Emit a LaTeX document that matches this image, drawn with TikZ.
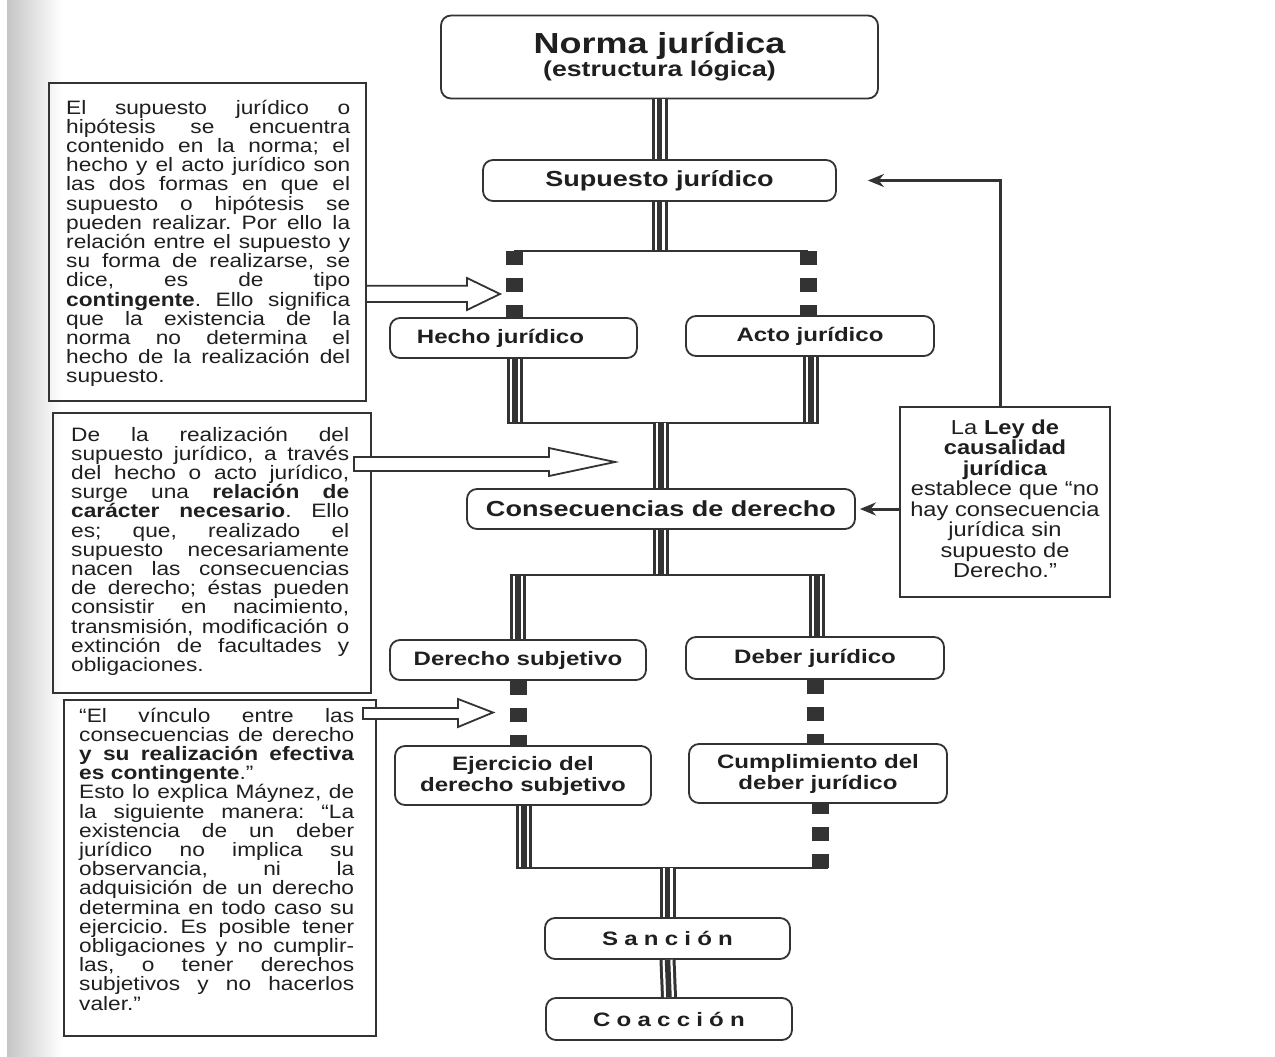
\documentclass[tikz,border=0pt]{standalone}
\usepackage{fontspec}
\setmainfont{Liberation Sans}[FakeStretch=1.24]
\newfontfamily\bodyf{Liberation Sans}[FakeStretch=1.17]
\usetikzlibrary{arrows.meta}
\definecolor{ink}{gray}{0.2}
\definecolor{txt}{gray}{0.12}
\newlength\jw
\newcommand\jl[1]{\noindent\hbox to \jw{\spaceskip=0.28em plus 1fil\relax #1}\par}
\newcommand\lastl[1]{\noindent #1\par}
\newcommand\lk{\kern6.2pt}
\newcommand\pset[1]{\lineskiplimit=-50pt\relax\parindent=0pt\relax\jw=#1\relax\frenchspacing}
\begin{document}
\begin{tikzpicture}[x=1pt, y=-1pt,
  rbox/.style={draw=ink, line width=1.8pt, rounded corners=10pt, fill=white, inner sep=0pt, align=center, text=txt, font=\bfseries\fontsize{19.4}{21}\selectfont},
  tbox/.style={draw=ink, line width=2.4pt, inner sep=0pt},
  ptext/.style={anchor=base west, inner sep=0pt, text=txt, font=\bodyf\fontsize{19.4}{19.2}\selectfont},
  hl/.style={draw=ink, line width=2.2pt},
  triple/.style={draw=ink, line width=5.5pt, preaction={draw=white, line width=10pt, preaction={draw=ink, line width=16pt}}},
  dsq/.style={draw=ink, line width=17pt, dash pattern=on 14pt off 13pt},
  arr/.style={draw=ink, line width=3pt, -{Stealth[length=16pt,width=13pt]}},
  hollow/.style={draw=ink, line width=1.8pt, fill=white, line join=miter}]
\useasboundingbox (0,0) rectangle (1275,1057);
\fill[white] (0,0) rectangle (1275,1057);
\shade[left color=gray!45, right color=white] (7,0) rectangle (62,1057);

% main boxes
\node[rbox, minimum width=437pt, minimum height=83pt] (norma) at (659.5,57)
  {\fontsize{29}{30}\selectfont Norma jurídica\\\fontsize{21.5}{29}\selectfont (estructura lógica)};
\node[rbox, minimum width=353pt, minimum height=41pt, font=\bfseries\fontsize{21.8}{24}\selectfont] (sup) at (659.5,180.5) {Supuesto jurídico};
\node[rbox, minimum width=247pt, minimum height=40pt] (hecho) at (513.5,338) {Hecho jurídico\kern26pt};
\node[rbox, minimum width=248pt, minimum height=40pt] (acto) at (810,336) {Acto jurídico};
\node[rbox, minimum width=388pt, minimum height=40pt, font=\bfseries\fontsize{21.8}{24}\selectfont] (cons) at (661,509) {Consecuencias de derecho};
\node[rbox, minimum width=256pt, minimum height=40pt] (ders) at (518,660) {Derecho subjetivo};
\node[rbox, minimum width=258pt, minimum height=42pt] (deb) at (815,658) {Deber jurídico};
\node[rbox, minimum width=256pt, minimum height=59pt] (ejer) at (523,775.5) {Ejercicio del\\derecho subjetivo};
\node[rbox, minimum width=258pt, minimum height=59pt] (cump) at (818,773.5) {Cumplimiento del\\deber jurídico};
\node[rbox, minimum width=245pt, minimum height=41pt] (sanc) at (667.5,938.5) {S\lk a\lk n\lk c\lk i\lk ó\lk n};
\node[rbox, minimum width=246pt, minimum height=42pt] (coac) at (669,1019) {C\lk o\lk a\lk c\lk c\lk i\lk ó\lk n};

% trunk and brackets
\coordinate (aL) at (514,251); \coordinate (aR) at (808,251);
\draw[triple] (norma.south) -- (sup.north);
\draw[triple] (sup.south) -- (sup.south |- aL);
\draw[hl] (aL) -- (aR);
\draw[dsq] (aL) -- (aL |- hecho.north);
\draw[dsq] (aR) -- (aR |- acto.north);
\coordinate (bL) at (515,423); \coordinate (bR) at (811,423);
\draw[triple] (bL |- hecho.south) -- (bL);
\draw[triple] (bR |- acto.south) -- (bR);
\draw[hl, shorten <=-8pt, shorten >=-8pt] (bL) -- (bR);
\draw[triple] (cons.north |- bL) -- (cons.north);
\coordinate (cL) at (518,575); \coordinate (cR) at (817,575);
\draw[triple] (cons.south) -- (cons.south |- cL);
\draw[triple] (cL) -- (cL |- ders.north);
\draw[triple] (cR) -- (cR |- deb.north);
\draw[hl, shorten <=-8pt, shorten >=-8pt] (cL) -- (cR);
\draw[dsq] (ders.south) -- (ders.south |- ejer.north);
\draw[dsq] (deb.south) -- (deb.south |- cump.north);
\coordinate (dL) at (524,868); \coordinate (dR) at (820,868);
\draw[triple] (dL |- ejer.south) -- (dL);
\draw[dsq] (dR) -- (dR |- cump.south);
\draw[hl, shorten <=-8pt, shorten >=-8pt] (dL) -- (dR);
\draw[triple] (sanc.north |- dL) -- (sanc.north);
\draw[triple] (sanc.south) -- (coac.north);

% left text boxes
\node[tbox, minimum width=317pt, minimum height=318pt] (t1) at (207.5,242) {};
\node[ptext, text width=284pt] (t1x) at (66,114) {\pset{284pt}%
\jl{El supuesto jurídico o}
\jl{hipótesis se encuentra}
\jl{contenido en la norma; el}
\jl{hecho y el acto jurídico son}
\jl{las dos formas en que el}
\jl{supuesto o hipótesis se}
\jl{pueden realizar. Por ello la}
\jl{relación entre el supuesto y}
\jl{su forma de realizarse, se}
\jl{dice, es de tipo}
\jl{\textbf{contingente}. Ello significa}
\jl{que la existencia de la}
\jl{norma no determina el}
\jl{hecho de la realización del}
\lastl{supuesto.}};

\node[tbox, minimum width=318pt, minimum height=280pt] (t2) at (212,553) {};
\node[ptext, text width=278pt] (t2x) at (71,441) {\pset{278pt}%
\jl{De la realización del}
\jl{supuesto jurídico, a través}
\jl{del hecho o acto jurídico,}
\jl{surge una \textbf{relación de}}
\jl{\textbf{carácter necesario}. Ello}
\jl{es; que, realizado el}
\jl{supuesto necesariamente}
\jl{nacen las consecuencias}
\jl{de derecho; éstas pueden}
\jl{consistir en nacimiento,}
\jl{transmisión, modificación o}
\jl{extinción de facultades y}
\lastl{obligaciones.}};

\node[tbox, minimum width=312pt, minimum height=336pt] (t3) at (220,868) {};
\node[ptext, text width=275pt] (t3x) at (79,722) {\pset{275pt}%
\jl{“El vínculo entre las}
\jl{consecuencias de derecho}
\jl{\textbf{y su realización efectiva}}
\lastl{\textbf{es contingente}.”}
\jl{Esto lo explica Máynez, de}
\jl{la siguiente manera: “La}
\jl{existencia de un deber}
\jl{jurídico no implica su}
\jl{observancia, ni la}
\jl{adquisición de un derecho}
\jl{determina en todo caso su}
\jl{ejercicio. Es posible tener}
\jl{obligaciones y no cumplir-}
\jl{las, o tener derechos}
\jl{subjetivos y no hacerlos}
\lastl{valer.”}};

% hollow arrows
\draw[hollow] (t1.east |- 0,285.7) -- (467,285.7) -- (467,278) -- (500,294) -- (467,310) -- (467,302) -- (t1.east |- 0,302);
\draw[hollow] (354,457) -- (549,457) -- (549,448) -- (615,462) -- (549,476) -- (549,471) -- (354,471) -- cycle;
\draw[hollow] (363,708) -- (458,708) -- (458,699) -- (493,712.5) -- (458,727) -- (458,719) -- (363,719) -- cycle;

% right box
\node[tbox, minimum width=210pt, minimum height=190pt] (ley) at (1005,502) {};
\node[anchor=base, inner sep=0pt, text width=206pt, align=center, text=txt, font=\bodyf\fontsize{20.2}{20.5}\selectfont] (leyx) at (1005,434)
  {La \textbf{Ley de}\\\textbf{causalidad}\\\textbf{jurídica}\\establece que “no\\hay consecuencia\\jurídica sin\\supuesto de\\Derecho.”};
\draw[arr] ([xshift=-5pt]ley.north) |- ([xshift=31pt]sup.east);
\draw[arr, shorten >=4pt] (ley.west |- cons.east) -- (cons.east);
\end{tikzpicture}
\end{document}
